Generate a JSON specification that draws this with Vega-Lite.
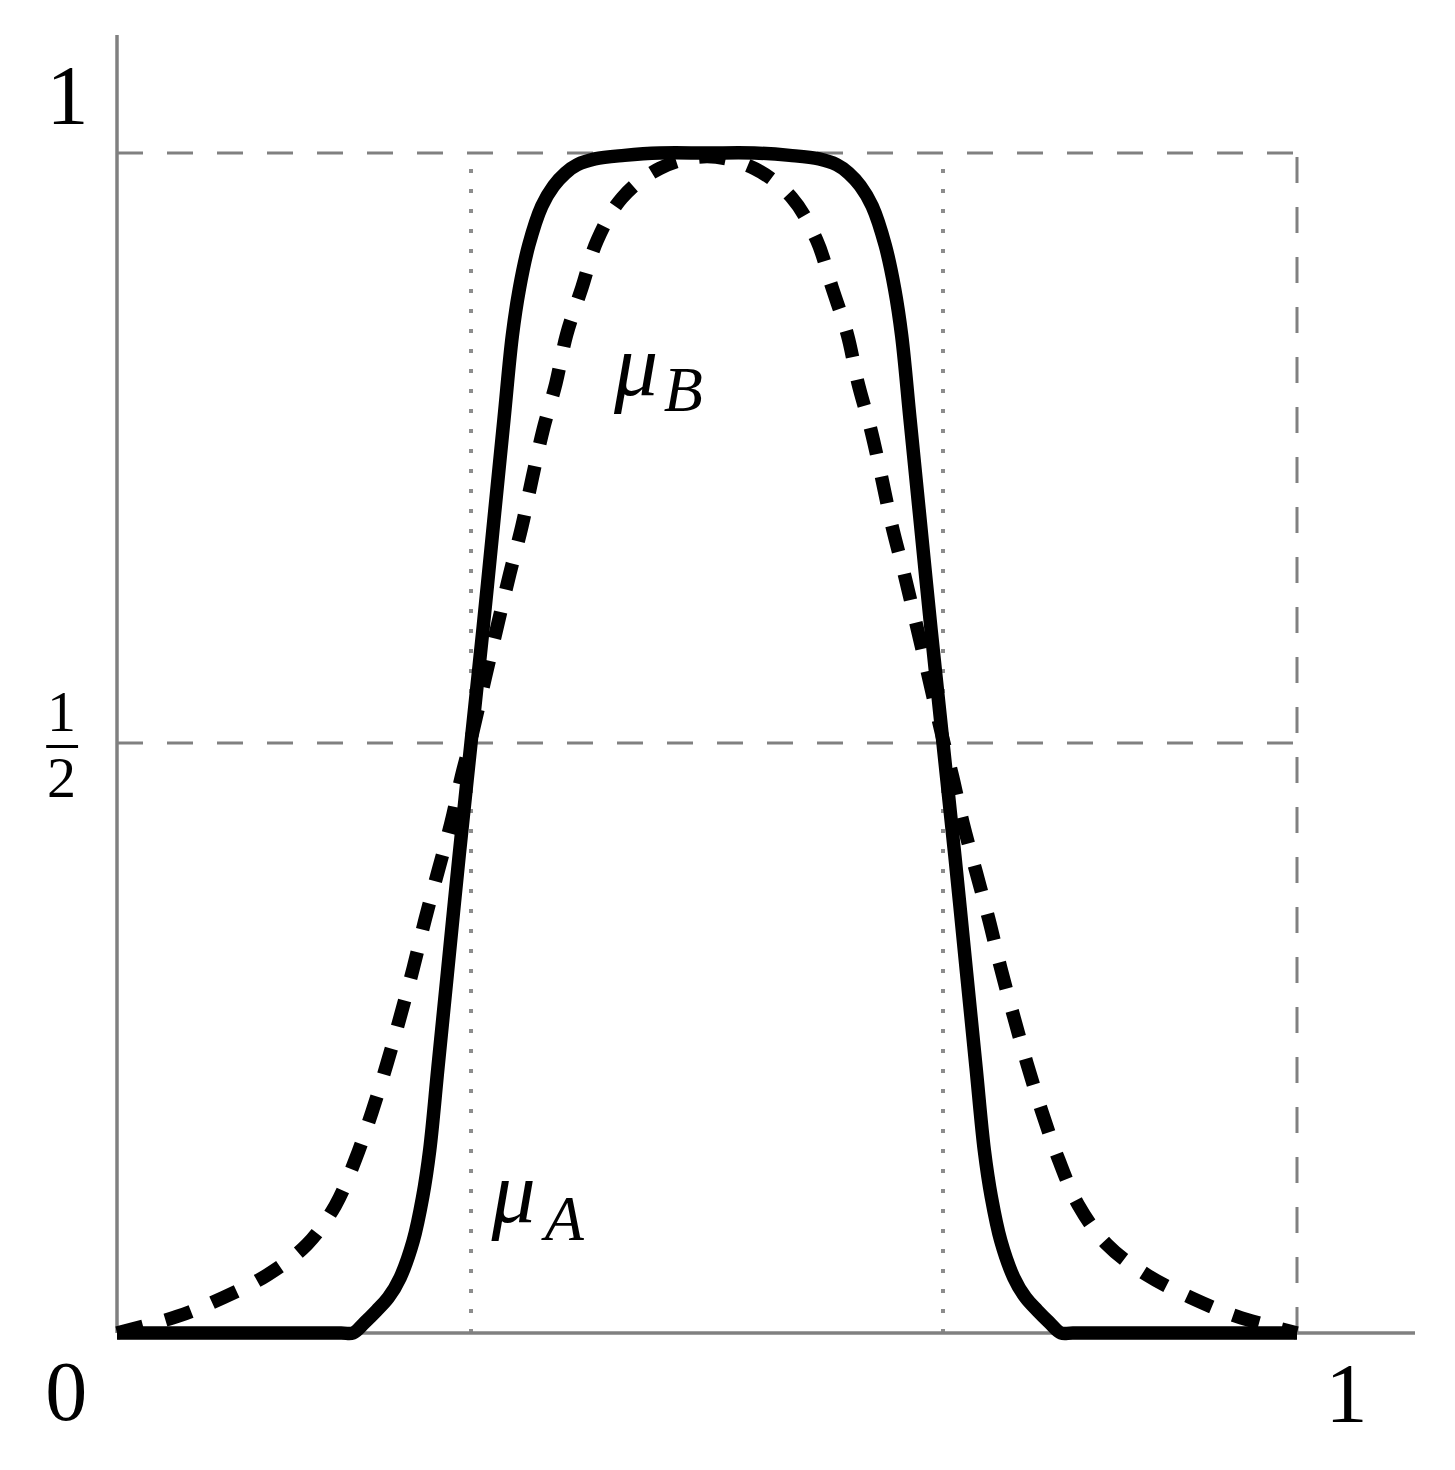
{
  "$schema": "https://vega.github.io/schema/vega-lite/v6.json",
  "width": 1298,
  "height": 1298,
  "autosize": {"type": "none"},
  "padding": {"left": 117, "top": 35, "right": 40, "bottom": 137},
  "background": "white",
  "config": {"view": {"stroke": null}},
  "datasets": {
    "axes": [
      {"x": 0, "y": 0, "x2": 1.1, "y2": 0},
      {"x": 0, "y": 0, "x2": 0, "y2": 1.1}
    ],
    "guides": [
      {"x": 0, "y": 1, "x2": 1, "y2": 1},
      {"x": 0, "y": 0.5, "x2": 1, "y2": 0.5},
      {"x": 1, "y": 0, "x2": 1, "y2": 1}
    ],
    "dots": [
      {"x": 0.3, "y": 0, "x2": 0.3, "y2": 1},
      {"x": 0.7, "y": 0, "x2": 0.7, "y2": 1}
    ],
    "fracbar": [
      {"x": -0.06, "y": 0.497, "x2": -0.033, "y2": 0.497}
    ],
    "muB": [
      {"x": 0, "y": 0},
      {"x": 0.051, "y": 0.014},
      {"x": 0.09, "y": 0.03},
      {"x": 0.127, "y": 0.049},
      {"x": 0.161, "y": 0.075},
      {"x": 0.185, "y": 0.108},
      {"x": 0.202, "y": 0.147},
      {"x": 0.216, "y": 0.187},
      {"x": 0.229, "y": 0.229},
      {"x": 0.24, "y": 0.268},
      {"x": 0.251, "y": 0.309},
      {"x": 0.261, "y": 0.35},
      {"x": 0.272, "y": 0.391},
      {"x": 0.283, "y": 0.432},
      {"x": 0.292, "y": 0.472},
      {"x": 0.3, "y": 0.503},
      {"x": 0.312, "y": 0.555},
      {"x": 0.323, "y": 0.602},
      {"x": 0.333, "y": 0.644},
      {"x": 0.343, "y": 0.683},
      {"x": 0.352, "y": 0.725},
      {"x": 0.361, "y": 0.765},
      {"x": 0.372, "y": 0.805},
      {"x": 0.381, "y": 0.846},
      {"x": 0.394, "y": 0.886},
      {"x": 0.407, "y": 0.926},
      {"x": 0.428, "y": 0.962},
      {"x": 0.46, "y": 0.987},
      {"x": 0.5, "y": 0.997},
      {"x": 0.54, "y": 0.987},
      {"x": 0.572, "y": 0.962},
      {"x": 0.593, "y": 0.926},
      {"x": 0.606, "y": 0.886},
      {"x": 0.619, "y": 0.846},
      {"x": 0.628, "y": 0.805},
      {"x": 0.639, "y": 0.765},
      {"x": 0.648, "y": 0.725},
      {"x": 0.657, "y": 0.683},
      {"x": 0.667, "y": 0.644},
      {"x": 0.677, "y": 0.602},
      {"x": 0.688, "y": 0.555},
      {"x": 0.7, "y": 0.503},
      {"x": 0.708, "y": 0.472},
      {"x": 0.717, "y": 0.432},
      {"x": 0.728, "y": 0.391},
      {"x": 0.739, "y": 0.35},
      {"x": 0.749, "y": 0.309},
      {"x": 0.76, "y": 0.268},
      {"x": 0.771, "y": 0.229},
      {"x": 0.784, "y": 0.187},
      {"x": 0.798, "y": 0.147},
      {"x": 0.815, "y": 0.108},
      {"x": 0.839, "y": 0.075},
      {"x": 0.873, "y": 0.049},
      {"x": 0.91, "y": 0.03},
      {"x": 0.949, "y": 0.014},
      {"x": 1, "y": 0}
    ],
    "muA": [
      {"x": 0, "y": 0},
      {"x": 0.1, "y": 0},
      {"x": 0.19, "y": 0},
      {"x": 0.2, "y": 0},
      {"x": 0.21, "y": 0.009},
      {"x": 0.22, "y": 0.019},
      {"x": 0.23, "y": 0.03},
      {"x": 0.24, "y": 0.047},
      {"x": 0.251, "y": 0.078},
      {"x": 0.259, "y": 0.115},
      {"x": 0.265, "y": 0.155},
      {"x": 0.272, "y": 0.225},
      {"x": 0.28, "y": 0.305},
      {"x": 0.29, "y": 0.405},
      {"x": 0.3, "y": 0.5},
      {"x": 0.31, "y": 0.595},
      {"x": 0.32, "y": 0.695},
      {"x": 0.328, "y": 0.775},
      {"x": 0.335, "y": 0.845},
      {"x": 0.341, "y": 0.885},
      {"x": 0.349, "y": 0.922},
      {"x": 0.36, "y": 0.955},
      {"x": 0.37, "y": 0.972},
      {"x": 0.38, "y": 0.983},
      {"x": 0.39, "y": 0.99},
      {"x": 0.405, "y": 0.995},
      {"x": 0.43, "y": 0.998},
      {"x": 0.46, "y": 1.0},
      {"x": 0.5, "y": 1.0},
      {"x": 0.54, "y": 1.0},
      {"x": 0.57, "y": 0.998},
      {"x": 0.595, "y": 0.995},
      {"x": 0.61, "y": 0.99},
      {"x": 0.62, "y": 0.983},
      {"x": 0.63, "y": 0.972},
      {"x": 0.64, "y": 0.955},
      {"x": 0.651, "y": 0.922},
      {"x": 0.659, "y": 0.885},
      {"x": 0.665, "y": 0.845},
      {"x": 0.672, "y": 0.775},
      {"x": 0.68, "y": 0.695},
      {"x": 0.69, "y": 0.595},
      {"x": 0.7, "y": 0.5},
      {"x": 0.71, "y": 0.405},
      {"x": 0.72, "y": 0.305},
      {"x": 0.728, "y": 0.225},
      {"x": 0.735, "y": 0.155},
      {"x": 0.741, "y": 0.115},
      {"x": 0.749, "y": 0.078},
      {"x": 0.76, "y": 0.047},
      {"x": 0.77, "y": 0.03},
      {"x": 0.78, "y": 0.019},
      {"x": 0.79, "y": 0.009},
      {"x": 0.8, "y": 0},
      {"x": 0.81, "y": 0},
      {"x": 0.9, "y": 0},
      {"x": 1, "y": 0}
    ],
    "bigDigits": [
      {"x": -0.042, "y": 1.025, "t": "1"},
      {"x": -0.043, "y": -0.074, "t": "0"},
      {"x": 1.042, "y": -0.075, "t": "1"}
    ],
    "fracDigits": [
      {"x": -0.047, "y": 0.51, "t": "1"},
      {"x": -0.047, "y": 0.454, "t": "2"}
    ],
    "mus": [
      {"x": 0.336, "y": 0.094, "t": "μ"},
      {"x": 0.44, "y": 0.795, "t": "μ"}
    ],
    "subs": [
      {"x": 0.379, "y": 0.079, "t": "A"},
      {"x": 0.48, "y": 0.781, "t": "B"}
    ]
  },
  "encoding": {
    "x": {"field": "x", "type": "quantitative", "axis": null, "scale": {"domain": [0, 1.1], "nice": false, "zero": false}},
    "y": {"field": "y", "type": "quantitative", "axis": null, "scale": {"domain": [0, 1.1], "nice": false, "zero": false}}
  },
  "layer": [
    {
      "data": {"name": "guides"},
      "mark": {"type": "rule", "color": "#808080", "strokeWidth": 3, "strokeDash": [26, 24]},
      "encoding": {"x2": {"field": "x2"}, "y2": {"field": "y2"}}
    },
    {
      "data": {"name": "dots"},
      "mark": {"type": "rule", "color": "#8c8c8c", "strokeWidth": 4, "strokeDash": [4, 16]},
      "encoding": {"x2": {"field": "x2"}, "y2": {"field": "y2"}}
    },
    {
      "data": {"name": "axes"},
      "mark": {"type": "rule", "color": "#808080", "strokeWidth": 3.5},
      "encoding": {"x2": {"field": "x2"}, "y2": {"field": "y2"}}
    },
    {
      "data": {"name": "muB"},
      "mark": {"type": "line", "color": "black", "strokeWidth": 13.5, "strokeDash": [27, 23], "strokeCap": "butt", "interpolate": "catmull-rom"},
      "encoding": {}
    },
    {
      "data": {"name": "muA"},
      "mark": {"type": "line", "color": "black", "strokeWidth": 13.5, "strokeCap": "butt", "interpolate": "catmull-rom"},
      "encoding": {}
    },
    {
      "data": {"name": "fracbar"},
      "mark": {"type": "rule", "color": "black", "strokeWidth": 3},
      "encoding": {"x2": {"field": "x2"}, "y2": {"field": "y2"}}
    },
    {
      "data": {"name": "bigDigits"},
      "mark": {"type": "text", "font": "Liberation Serif", "fontSize": 84, "align": "center", "baseline": "alphabetic", "color": "black"},
      "encoding": {"text": {"field": "t"}}
    },
    {
      "data": {"name": "fracDigits"},
      "mark": {"type": "text", "font": "Liberation Serif", "fontSize": 58, "align": "center", "baseline": "alphabetic", "color": "black"},
      "encoding": {"text": {"field": "t"}}
    },
    {
      "data": {"name": "mus"},
      "mark": {"type": "text", "font": "Liberation Serif", "fontStyle": "italic", "fontSize": 88, "align": "center", "baseline": "alphabetic", "color": "black"},
      "encoding": {"text": {"field": "t"}}
    },
    {
      "data": {"name": "subs"},
      "mark": {"type": "text", "font": "Liberation Serif", "fontStyle": "italic", "fontSize": 64, "align": "center", "baseline": "alphabetic", "color": "black"},
      "encoding": {"text": {"field": "t"}}
    }
  ]
}
